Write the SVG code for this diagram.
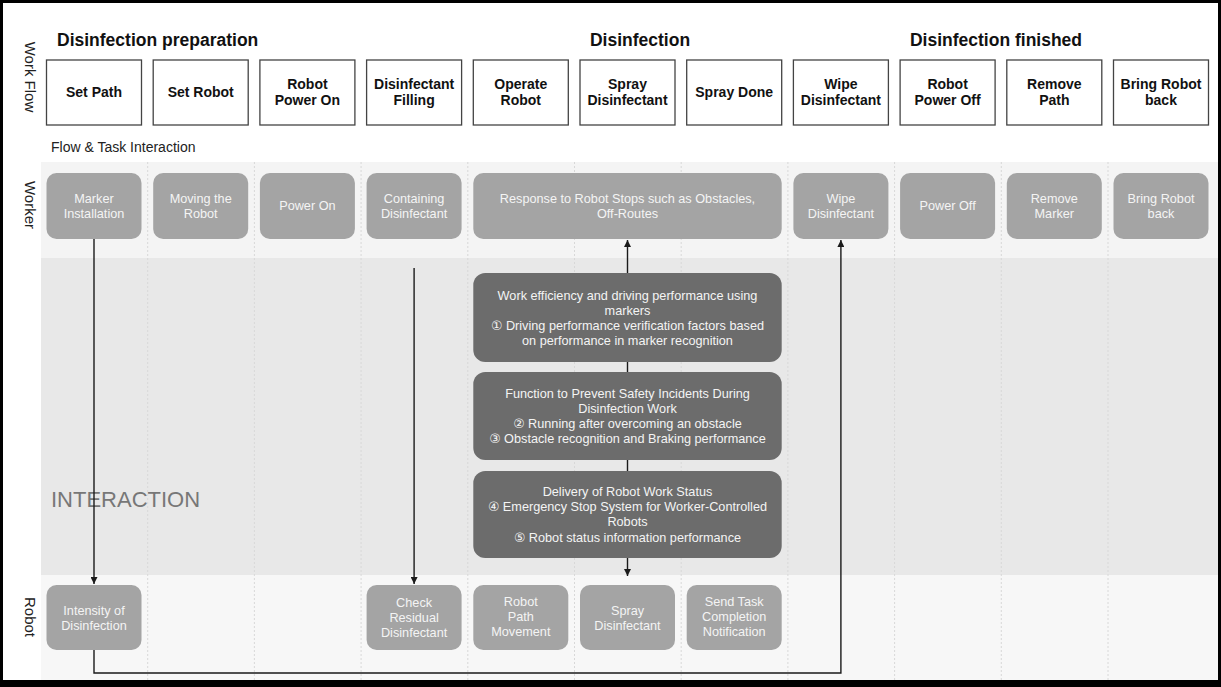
<svg xmlns="http://www.w3.org/2000/svg" width="1221" height="687" viewBox="0 0 1221 687">
<defs>
<style>
text{font-family:"Liberation Sans","DejaVu Sans",Arial,sans-serif}
.wf{fill:#fff;stroke:#444;stroke-width:1.3}
.wft{font-size:14px;font-weight:bold;fill:#111;text-anchor:middle}
.hd{font-size:17.5px;font-weight:bold;fill:#111}
.lane{font-size:15px;fill:#222}
.wk{fill:#a4a4a4}
.dk{fill:#6c6c6c}
.bt{font-size:12.7px;fill:#f4f4f4;text-anchor:middle}
.div{stroke:#d8d8d8;stroke-width:1;stroke-dasharray:2 2}
.con{stroke:#1a1a1a;stroke-width:1.4;fill:none}
</style>
<marker id="ah" viewBox="0 0 10 10" refX="10" refY="5" markerWidth="7" markerHeight="7" orient="auto" markerUnits="userSpaceOnUse">
<path d="M0,0 L10,5 L0,10 z" fill="#1a1a1a"/>
</marker>
</defs>
<rect x="0" y="0" width="1221" height="687" fill="#000"/>
<rect x="3" y="3" width="1215" height="677" fill="#fff"/>
<rect x="41" y="162" width="1177" height="96" fill="#f4f4f4"/>
<rect x="41" y="258" width="1177" height="317" fill="#e8e8e8"/>
<rect x="41" y="575" width="1177" height="105" fill="#f7f7f7"/>
<g id="dividers">
<line class="div" x1="147.7" y1="162" x2="147.7" y2="680"/>
<line class="div" x1="254.4" y1="162" x2="254.4" y2="680"/>
<line class="div" x1="361.1" y1="162" x2="361.1" y2="680"/>
<line class="div" x1="467.8" y1="162" x2="467.8" y2="680"/>
<line class="div" x1="574.5" y1="162" x2="574.5" y2="680"/>
<line class="div" x1="681.2" y1="162" x2="681.2" y2="680"/>
<line class="div" x1="787.9" y1="162" x2="787.9" y2="680"/>
<line class="div" x1="894.6" y1="162" x2="894.6" y2="680"/>
<line class="div" x1="1001.3" y1="162" x2="1001.3" y2="680"/>
<line class="div" x1="1108" y1="162" x2="1108" y2="680"/>
</g>
<g id="labels">
<text class="lane" transform="translate(25,77) rotate(90)" text-anchor="middle">Work Flow</text>
<text class="lane" transform="translate(25,205) rotate(90)" text-anchor="middle">Worker</text>
<text class="lane" transform="translate(25,617) rotate(90)" text-anchor="middle">Robot</text>
<text class="hd" x="57" y="46">Disinfection preparation</text>
<text class="hd" x="640" y="46" text-anchor="middle">Disinfection</text>
<text class="hd" x="996" y="46" text-anchor="middle">Disinfection finished</text>
<text x="51" y="152" font-size="14" fill="#222">Flow &amp; Task Interaction</text>
<text x="51" y="507" font-size="22" fill="#777">INTERACTION</text>
</g>
<g id="workflow">
<g id="wf-setpath"><rect class="wf" x="46.5" y="60" width="95" height="65"/><text class="wft" x="94" y="97">Set Path</text></g>
<g id="wf-setrobot"><rect class="wf" x="153.2" y="60" width="95" height="65"/><text class="wft" x="200.7" y="97">Set Robot</text></g>
<g id="wf-poweron"><rect class="wf" x="259.9" y="60" width="95" height="65"/><text class="wft" x="307.4" y="89">Robot</text><text class="wft" x="307.4" y="105">Power On</text></g>
<g id="wf-filling"><rect class="wf" x="366.6" y="60" width="95" height="65"/><text class="wft" x="414.1" y="89">Disinfectant</text><text class="wft" x="414.1" y="105">Filling</text></g>
<g id="wf-operate"><rect class="wf" x="473.3" y="60" width="95" height="65"/><text class="wft" x="520.8" y="89">Operate</text><text class="wft" x="520.8" y="105">Robot</text></g>
<g id="wf-spray"><rect class="wf" x="580" y="60" width="95" height="65"/><text class="wft" x="627.5" y="89">Spray</text><text class="wft" x="627.5" y="105">Disinfectant</text></g>
<g id="wf-spraydone"><rect class="wf" x="686.7" y="60" width="95" height="65"/><text class="wft" x="734.2" y="97">Spray Done</text></g>
<g id="wf-wipe"><rect class="wf" x="793.4" y="60" width="95" height="65"/><text class="wft" x="840.9" y="89">Wipe</text><text class="wft" x="840.9" y="105">Disinfectant</text></g>
<g id="wf-poweroff"><rect class="wf" x="900.1" y="60" width="95" height="65"/><text class="wft" x="947.6" y="89">Robot</text><text class="wft" x="947.6" y="105">Power Off</text></g>
<g id="wf-removepath"><rect class="wf" x="1006.8" y="60" width="95" height="65"/><text class="wft" x="1054.3" y="89">Remove</text><text class="wft" x="1054.3" y="105">Path</text></g>
<g id="wf-bringback"><rect class="wf" x="1113.5" y="60" width="95" height="65"/><text class="wft" x="1161" y="89">Bring Robot</text><text class="wft" x="1161" y="105">back</text></g>
</g>
<g id="worker">
<g id="wk-marker"><rect class="wk" x="46.5" y="173" width="95" height="66" rx="10"/><text class="bt" x="94" y="203">Marker</text><text class="bt" x="94" y="218">Installation</text></g>
<g id="wk-moving"><rect class="wk" x="153.2" y="173" width="95" height="66" rx="10"/><text class="bt" x="200.7" y="203">Moving the</text><text class="bt" x="200.7" y="218">Robot</text></g>
<g id="wk-poweron"><rect class="wk" x="259.9" y="173" width="95" height="66" rx="10"/><text class="bt" x="307.4" y="210">Power On</text></g>
<g id="wk-containing"><rect class="wk" x="366.6" y="173" width="95" height="66" rx="10"/><text class="bt" x="414.1" y="203">Containing</text><text class="bt" x="414.1" y="218">Disinfectant</text></g>
<g id="wk-response"><rect class="wk" x="473.3" y="173" width="308.4" height="66" rx="10"/><text class="bt" x="627.5" y="203">Response to Robot Stops such as Obstacles,</text><text class="bt" x="627.5" y="218">Off-Routes</text></g>
<g id="wk-wipe"><rect class="wk" x="793.4" y="173" width="95" height="66" rx="10"/><text class="bt" x="840.9" y="203">Wipe</text><text class="bt" x="840.9" y="218">Disinfectant</text></g>
<g id="wk-poweroff"><rect class="wk" x="900.1" y="173" width="95" height="66" rx="10"/><text class="bt" x="947.6" y="210">Power Off</text></g>
<g id="wk-remove"><rect class="wk" x="1006.8" y="173" width="95" height="66" rx="10"/><text class="bt" x="1054.3" y="203">Remove</text><text class="bt" x="1054.3" y="218">Marker</text></g>
<g id="wk-bring"><rect class="wk" x="1113.5" y="173" width="95" height="66" rx="10"/><text class="bt" x="1161" y="203">Bring Robot</text><text class="bt" x="1161" y="218">back</text></g>
</g>
<g id="connectors">
<line class="con" x1="94" y1="239" x2="94" y2="584" marker-end="url(#ah)"/>
<line class="con" x1="414.1" y1="268" x2="414.1" y2="584" marker-end="url(#ah)"/>
<line class="con" x1="627.5" y1="273" x2="627.5" y2="240" marker-end="url(#ah)"/>
<line class="con" x1="627.5" y1="362" x2="627.5" y2="372"/>
<line class="con" x1="627.5" y1="460" x2="627.5" y2="471"/>
<line class="con" x1="627.5" y1="558" x2="627.5" y2="576" marker-end="url(#ah)"/>
<polyline class="con" points="94,650 94,673 840.9,673 840.9,240" marker-end="url(#ah)"/>
</g>
<g id="interaction">
<g id="ia-markers"><rect class="dk" x="473.3" y="273" width="308.4" height="89" rx="12"/>
<text class="bt" x="627.5" y="300">Work efficiency and driving performance using</text>
<text class="bt" x="627.5" y="315">markers</text>
<text class="bt" x="627.5" y="330">① Driving performance verification factors based</text>
<text class="bt" x="627.5" y="345">on performance in marker recognition</text></g>
<g id="ia-safety"><rect class="dk" x="473.3" y="372" width="308.4" height="88" rx="12"/>
<text class="bt" x="627.5" y="398">Function to Prevent Safety Incidents During</text>
<text class="bt" x="627.5" y="413">Disinfection Work</text>
<text class="bt" x="627.5" y="428">② Running after overcoming an obstacle</text>
<text class="bt" x="627.5" y="443">③ Obstacle recognition and Braking performance</text></g>
<g id="ia-status"><rect class="dk" x="473.3" y="471" width="308.4" height="87" rx="12"/>
<text class="bt" x="627.5" y="496">Delivery of Robot Work Status</text>
<text class="bt" x="627.5" y="511">④ Emergency Stop System for Worker-Controlled</text>
<text class="bt" x="627.5" y="526">Robots</text>
<text class="bt" x="627.5" y="542">⑤ Robot status information performance</text></g>
</g>
<g id="robot">
<g id="rb-intensity"><rect class="wk" x="46.5" y="585" width="95" height="65" rx="10"/><text class="bt" x="94" y="615">Intensity of</text><text class="bt" x="94" y="630">Disinfection</text></g>
<g id="rb-check"><rect class="wk" x="366.6" y="585" width="95" height="65" rx="10"/><text class="bt" x="414.1" y="607">Check</text><text class="bt" x="414.1" y="622">Residual</text><text class="bt" x="414.1" y="637">Disinfectant</text></g>
<g id="rb-path"><rect class="wk" x="473.3" y="585" width="95" height="65" rx="10"/><text class="bt" x="520.8" y="606">Robot</text><text class="bt" x="520.8" y="621">Path</text><text class="bt" x="520.8" y="636">Movement</text></g>
<g id="rb-spray"><rect class="wk" x="580" y="585" width="95" height="65" rx="10"/><text class="bt" x="627.5" y="615">Spray</text><text class="bt" x="627.5" y="630">Disinfectant</text></g>
<g id="rb-send"><rect class="wk" x="686.7" y="585" width="95" height="65" rx="10"/><text class="bt" x="734.2" y="606">Send Task</text><text class="bt" x="734.2" y="621">Completion</text><text class="bt" x="734.2" y="636">Notification</text></g>
</g>
</svg>
